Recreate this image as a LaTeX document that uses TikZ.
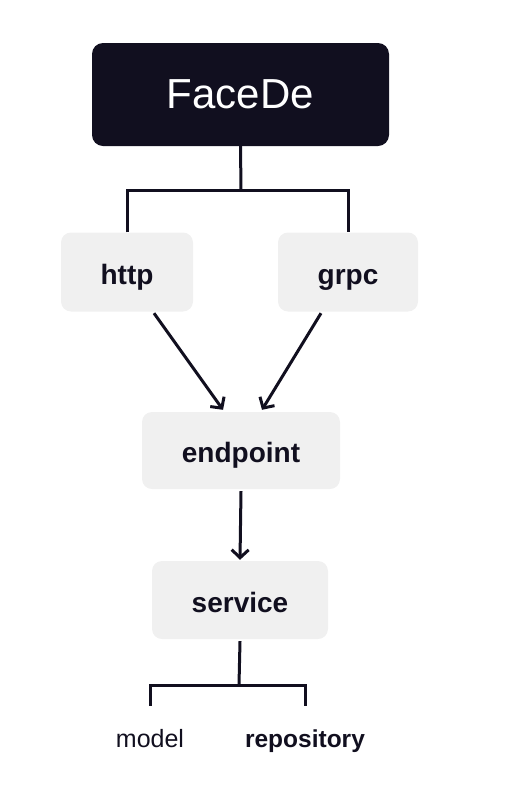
\documentclass[tikz,border=0pt]{standalone}
\usepackage{fontspec}
\setmainfont{Liberation Sans}
\usetikzlibrary{arrows.meta}
\definecolor{ink}{HTML}{110F1F}
\definecolor{boxgray}{HTML}{F0F0F0}
\tikzset{
  lightbox/.style={draw=none, fill=boxgray, rounded corners=10pt, inner sep=0pt, text=ink, text height=24pt, text depth=0pt, font=\fontsize{28}{32}\selectfont\bfseries},
  darkbox/.style={draw=none, fill=ink, rounded corners=11pt, inner sep=0pt, text=white, font=\fontsize{42}{48}\selectfont},
  leaf/.style={inner sep=0pt, text=ink, anchor=base},
  conn/.style={draw=ink, line width=3pt},
  arr/.style={conn, -{Straight Barb[length=8pt, width=17pt, line width=3pt]}}
}
\begin{document}
\begin{tikzpicture}[x=1pt, y=-1pt]
\path[use as bounding box] (0,0) rectangle (522,804);
\node[darkbox, minimum width=297pt, minimum height=103pt] (face) at (240.5,94.5) {FaceDe};
\node[lightbox, minimum width=132pt, minimum height=79pt] (http) at (127,272) {http};
\node[lightbox, minimum width=140pt, minimum height=79pt] (grpc) at (348,272) {grpc};
\node[lightbox, minimum width=198pt, minimum height=77pt] (endpoint) at (241,450.5) {endpoint};
\node[lightbox, minimum width=176pt, minimum height=78pt] (service) at (240,600) {service};
\node[leaf, font=\fontsize{25}{30}\selectfont] (model) at (150,747) {model};
\node[leaf, font=\fontsize{24.5}{30}\selectfont\bfseries] (repo) at (305,747) {repository};
\coordinate (j1) at (241,190);
\coordinate (j2) at (239,685);
% top tree
\draw[conn] (face.south) -- (j1);
\draw[conn] (http.north) -- (http.north |- j1) -- (grpc.north |- j1) -- (grpc.north);
% arrows
\draw[arr] ([xshift=27pt,yshift=-1.5pt]http.south) -- ([xshift=-18pt,yshift=2pt]endpoint.north);
\draw[arr] ([xshift=-27pt,yshift=-1.5pt]grpc.south) -- ([xshift=21pt,yshift=2pt]endpoint.north);
\draw[arr] ([yshift=-2pt]endpoint.south) -- ([yshift=1pt]service.north);
% bottom tree
\draw[conn] ([yshift=-2pt]service.south) -- (j2);
\draw[conn] ([yshift=23pt]model.north) -- (model.north |- j2) -- (repo.north |- j2) -- ([yshift=23pt]repo.north);
\end{tikzpicture}
\end{document}
